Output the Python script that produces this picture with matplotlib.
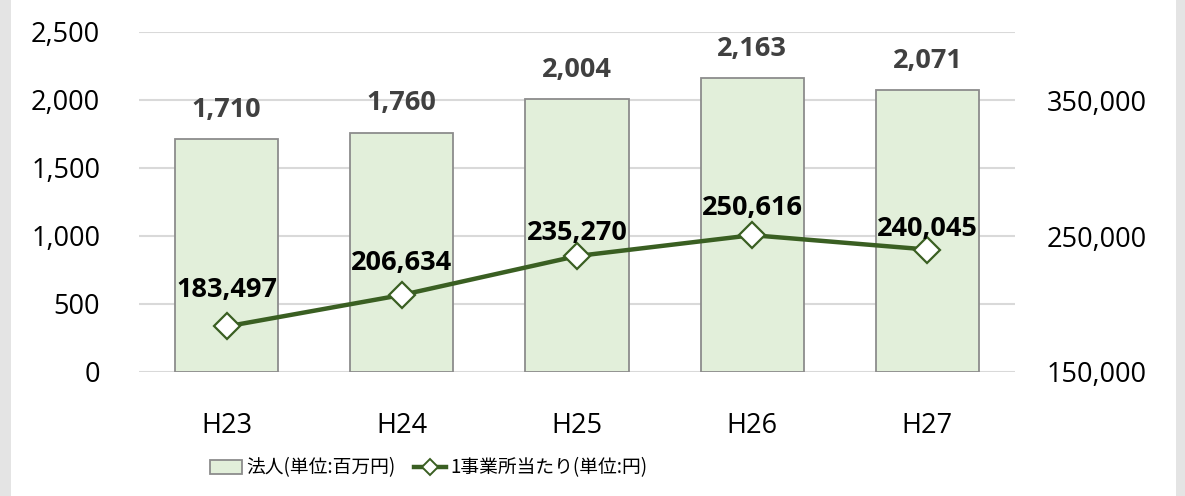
import matplotlib
matplotlib.use("Agg")
import matplotlib.pyplot as plt
from matplotlib.patches import Rectangle
from matplotlib.lines import Line2D
from matplotlib.ticker import FuncFormatter

categories = ["H23", "H24", "H25", "H26", "H27"]
corp_values = [1710, 1760, 2004, 2163, 2071]
per_office_values = [183497, 206634, 235270, 250616, 240045]
left_ticks = [0, 500, 1000, 1500, 2000, 2500]
right_ticks = [150000, 250000, 350000]
legend_bar = "法人(単位:百万円)"
legend_line = "1事業所当たり(単位:円)"

plt.rcParams['font.family'] = ['Open Sans', 'Noto Sans CJK JP', 'DejaVu Sans']

W, H, DPI = 1185, 496, 100
fig = plt.figure(figsize=(W / DPI, H / DPI), dpi=DPI)
fig.patch.set_facecolor("white")

# gray side strips
fig.patches.append(Rectangle((0, 0), 11 / W, 1, transform=fig.transFigure,
                             facecolor="#E4E4E4", edgecolor="none", zorder=0))
fig.patches.append(Rectangle((1176 / W, 0), 9 / W, 1, transform=fig.transFigure,
                             facecolor="#E4E4E4", edgecolor="none", zorder=0))

x0, x1 = 139, 1015
ytop, ybot = 32, 372
ax = fig.add_axes([x0 / W, 1 - ybot / H, (x1 - x0) / W, (ybot - ytop) / H])
ax.set_facecolor("none")
ax2 = ax.twinx()

FS = 19.5
xs = list(range(len(categories)))
ax.bar(xs, corp_values, width=0.59, color="#E2EFDA", edgecolor="#8C8C8C",
       linewidth=1.3, zorder=2)
ax.set_ylim(0, 2500)
ax.set_xlim(-0.5, len(categories) - 0.5)
ax.set_yticks(left_ticks)
ax.yaxis.set_major_formatter(FuncFormatter(lambda v, p: f"{int(v):,}"))
ax.grid(axis="y", color="#D9D9D9", linewidth=1.5, zorder=0)
ax.set_axisbelow(True)
ax.set_xticks(xs)
ax.set_xticklabels(categories)
ax.tick_params(axis="both", length=0, labelsize=FS, colors="black")
ax.tick_params(axis="x", pad=28.5)
ax.tick_params(axis="y", pad=28)
for s in ax.spines.values():
    s.set_visible(False)

for x, v in zip(xs, corp_values):
    ax.annotate(f"{v:,}", (x, v), xytext=(0, 21), textcoords="offset points",
                ha="center", va="center", fontsize=FS, fontweight="bold",
                color="#404040")

ax2.plot(xs, per_office_values, color="#3A5F22", linewidth=3.2, marker="D",
         markersize=13, markerfacecolor="white", markeredgecolor="#3A5F22",
         markeredgewidth=1.6, zorder=5)
ax2.set_ylim(150000, 400000)
ax2.set_yticks(right_ticks)
ax2.yaxis.set_major_formatter(FuncFormatter(lambda v, p: f"{int(v):,}"))
ax2.tick_params(axis="y", length=0, labelsize=FS, pad=23, colors="black")
for s in ax2.spines.values():
    s.set_visible(False)

offsets = [26.5, 23, 16.5, 19.5, 14.5]
for x, v, off in zip(xs, per_office_values, offsets):
    ax2.annotate(f"{v:,}", (x, v), xytext=(0, off), textcoords="offset points",
                 ha="center", va="center", fontsize=FS, fontweight="bold",
                 color="black", zorder=6)

handles = [
    Rectangle((0, 0), 1, 1, facecolor="#E2EFDA", edgecolor="#8C8C8C", linewidth=1.3),
    Line2D([], [], color="#3A5F22", linewidth=3.2, marker="D", markersize=8,
           markerfacecolor="white", markeredgecolor="#3A5F22", markeredgewidth=1.4),
]
leg = fig.legend(handles, [legend_bar, legend_line], loc="center left",
                 bbox_to_anchor=(195 / W, 1 - 468 / H), ncol=2, frameon=False,
                 prop={"family": ["Noto Sans CJK JP", "DejaVu Sans"], "size": 13.5},
                 handlelength=1.7, handletextpad=0.25, columnspacing=0.95,
                 borderpad=0.3)

fig.savefig("out.png", dpi=DPI, facecolor="white")
